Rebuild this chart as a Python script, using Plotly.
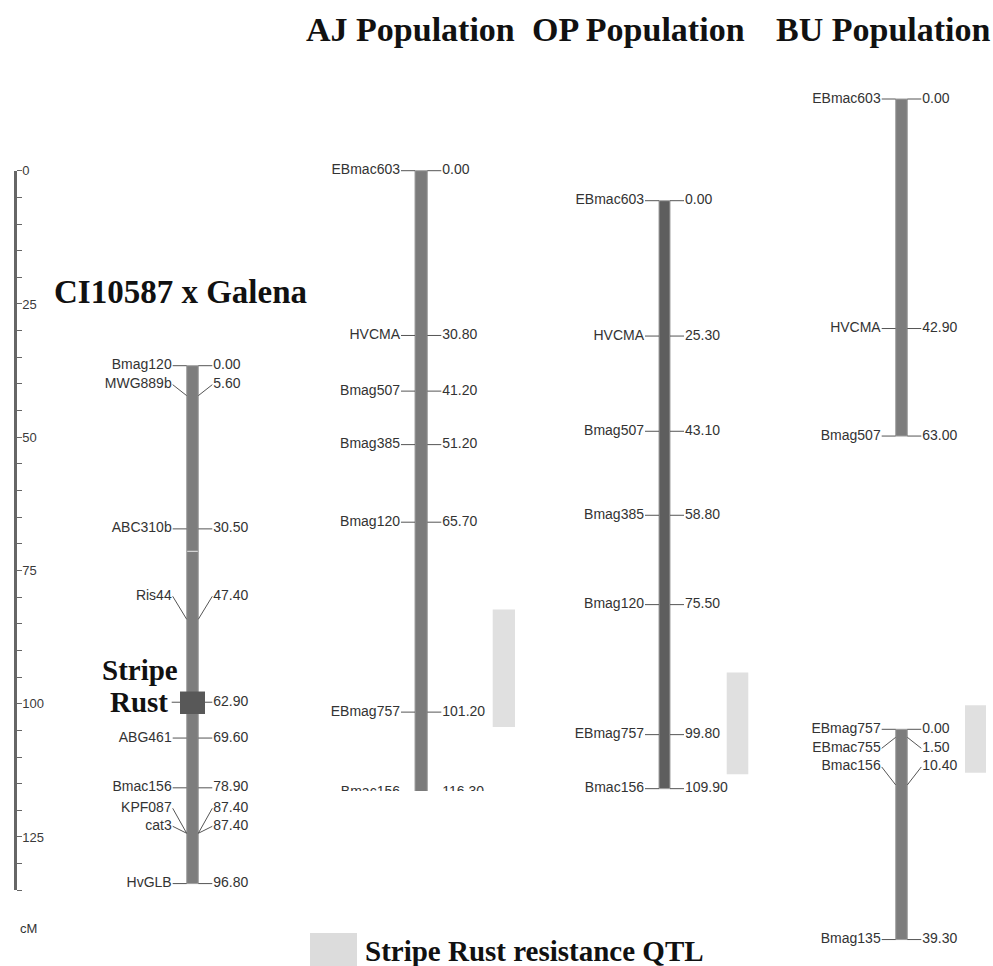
import plotly.graph_objects as go

W, H = 993, 966

# ---------------- map data (cM) ----------------
ci_markers = ["Bmag120", "MWG889b", "ABC310b", "Ris44", "ABG461",
              "Bmac156", "KPF087", "cat3", "HvGLB"]
ci_pos = [0.00, 5.60, 30.50, 47.40, 69.60, 78.90, 87.40, 87.40, 96.80]
ci_gene = "Stripe Rust"
ci_gene_pos = 62.90
ci_break = 34.7

aj_markers = ["EBmac603", "HVCMA", "Bmag507", "Bmag385", "Bmag120",
              "EBmag757", "Bmac156"]
aj_pos = [0.00, 30.80, 41.20, 51.20, 65.70, 101.20, 116.30]
aj_qtl = [82.0, 104.0]

op_markers = ["EBmac603", "HVCMA", "Bmag507", "Bmag385", "Bmag120",
              "EBmag757", "Bmac156"]
op_pos = [0.00, 25.30, 43.10, 58.80, 75.50, 99.80, 109.90]
op_qtl = [88.2, 107.2]

bu1_markers = ["EBmac603", "HVCMA", "Bmag507"]
bu1_pos = [0.00, 42.90, 63.00]

bu2_markers = ["EBmag757", "EBmac755", "Bmac156", "Bmag135"]
bu2_pos = [0.00, 1.50, 10.40, 39.30]
bu2_qtl = [-4.5, 8.1]

scale_max = 135
scale_major = 25
scale_minor = 5

titles = ["AJ Population", "OP Population", "BU Population"]
cross_title = "CI10587 x Galena"
legend_text = "Stripe Rust resistance QTL"

# ---------------- drawing geometry (pixels) ----------------
PX_PER_CM = 5.35
SCALE_PX_PER_CM = 5.33
CONN = 14          # connector length
LABEL_FONT = dict(family="Liberation Sans, Arial, sans-serif", size=14, color="#333333")
SERIF = "Liberation Serif, Times New Roman, serif"
LINE_COLOR = "#555555"
QTL_COLOR = "#e0e0e0"

panels = {
    "ci":  dict(axis="y2", y0=365.7, lo=-6, hi=100, bar_l=186.7, bar_w=11.6,
                color="#7d7d7d", shifts={"MWG889b": -11, "Ris44": -23,
                                          "KPF087": -25, "cat3": -7}, clip=False),
    "aj":  dict(axis="y3", y0=170.7, lo=-5, hi=(791 - 170.7) / PX_PER_CM,
                bar_l=415.0, bar_w=12.3, color="#7b7b7b", shifts={}, clip=True,
                qtl_x=(492.7, 515.0)),
    "op":  dict(axis="y4", y0=200.7, lo=-5, hi=112, bar_l=659.0, bar_w=11.0,
                color="#5e5e5e", shifts={}, clip=False, qtl_x=(726.7, 748.3)),
    "bu1": dict(axis="y5", y0=99.0, lo=-5, hi=66, bar_l=895.7, bar_w=11.6,
                color="#7d7d7d", shifts={}, clip=False),
    "bu2": dict(axis="y6", y0=729.3, lo=-6.5, hi=42, bar_l=895.7, bar_w=11.6,
                color="#7d7d7d", shifts={"EBmac755": 11, "Bmac156": -18},
                clip=False, qtl_x=(965.0, 986.0)),
}

fig = go.Figure()


def add_chromosome(cfg, names, pos, qtl=None):
    ax = cfg["axis"]
    bl, bw = cfg["bar_l"], cfg["bar_w"]
    br = bl + bw
    xc = bl + bw / 2

    # chromosome body
    fig.add_trace(go.Bar(x=[xc], y=[pos[-1] - pos[0]], base=[pos[0]], width=[bw],
                         marker=dict(color=cfg["color"], line=dict(color="#a0a0a0", width=1)),
                         xaxis="x", yaxis=ax, hoverinfo="skip", showlegend=False))

    # QTL interval
    if qtl is not None:
        x0, x1 = cfg["qtl_x"]
        fig.add_trace(go.Bar(x=[(x0 + x1) / 2], y=[qtl[1] - qtl[0]], base=[qtl[0]],
                             width=[x1 - x0], marker=dict(color=QTL_COLOR, line=dict(width=0)),
                             xaxis="x", yaxis=ax, hoverinfo="skip", showlegend=False))

    # connectors
    lx, ly = [], []
    label_y = []
    for n, p in zip(names, pos):
        ypos = p + cfg["shifts"].get(n, 0) / PX_PER_CM
        label_y.append(ypos)
        lx += [bl - CONN, bl, None, br, br + CONN, None]
        ly += [ypos, p, None, p, ypos, None]
    fig.add_trace(go.Scatter(x=lx, y=ly, mode="lines",
                             line=dict(color=LINE_COLOR, width=1),
                             xaxis="x", yaxis=ax, hoverinfo="skip", showlegend=False))

    # marker names and positions
    fig.add_trace(go.Scatter(x=[bl - CONN - 1] * len(names), y=label_y, mode="text",
                             text=names, textposition="middle left", textfont=LABEL_FONT,
                             cliponaxis=cfg["clip"], xaxis="x", yaxis=ax,
                             hoverinfo="skip", showlegend=False))
    fig.add_trace(go.Scatter(x=[br + CONN + 1] * len(pos), y=label_y, mode="text",
                             text=[f"{p:.2f}" for p in pos], textposition="middle right",
                             textfont=LABEL_FONT, cliponaxis=cfg["clip"], xaxis="x", yaxis=ax,
                             hoverinfo="skip", showlegend=False))


# empty trace that carries the cM scale axis
fig.add_trace(go.Scatter(x=[None], y=[None], xaxis="x", yaxis="y",
                         showlegend=False, hoverinfo="skip"))

add_chromosome(panels["ci"], ci_markers, ci_pos)
add_chromosome(panels["aj"], aj_markers, aj_pos, aj_qtl)
add_chromosome(panels["op"], op_markers, op_pos, op_qtl)
add_chromosome(panels["bu1"], bu1_markers, bu1_pos)
add_chromosome(panels["bu2"], bu2_markers, bu2_pos, bu2_qtl)

# stripe rust locus on CI10587 x Galena
ci = panels["ci"]
ci_br = ci["bar_l"] + ci["bar_w"]
sq_l, sq_r = 180.0, 205.0
fig.add_trace(go.Bar(x=[(sq_l + sq_r) / 2], y=[4.2], base=[ci_gene_pos - 2.0], width=[sq_r - sq_l],
                     marker=dict(color="#585858", line=dict(width=0)),
                     xaxis="x", yaxis="y2", hoverinfo="skip", showlegend=False))
fig.add_trace(go.Scatter(x=[ci["bar_l"] - CONN - 1, sq_l, None, sq_r, ci_br + CONN],
                         y=[ci_gene_pos, ci_gene_pos, None, ci_gene_pos, ci_gene_pos],
                         mode="lines", line=dict(color=LINE_COLOR, width=1),
                         xaxis="x", yaxis="y2", hoverinfo="skip", showlegend=False))
fig.add_trace(go.Scatter(x=[ci_br + CONN + 1], y=[ci_gene_pos], mode="text",
                         text=[f"{ci_gene_pos:.2f}"], textposition="middle right",
                         textfont=LABEL_FONT, cliponaxis=False, xaxis="x", yaxis="y2",
                         hoverinfo="skip", showlegend=False))
# thin break in the CI chromosome body
fig.add_trace(go.Scatter(x=[ci["bar_l"] + 0.5, ci_br - 0.5], y=[ci_break, ci_break],
                         mode="lines", line=dict(color="#d8d8d8", width=1.2),
                         xaxis="x", yaxis="y2", hoverinfo="skip", showlegend=False))

gene_words = ci_gene.split(" ")
annotations = [
    dict(text=gene_words[0], x=139.5, y=ci_gene_pos, xref="x", yref="y2", yshift=32,
         showarrow=False, font=dict(family=SERIF, size=29, color="#111111", weight="bold")),
    dict(text=gene_words[1], x=139.0, y=ci_gene_pos, xref="x", yref="y2",
         showarrow=False, font=dict(family=SERIF, size=29, color="#111111", weight="bold")),
]


def px(x, y):
    return x / W, 1 - y / H


for t, cx in zip(titles, [410, 638.5, 883]):
    x, y = px(cx, 29)
    annotations.append(dict(text=t, x=x, y=y, xref="paper", yref="paper", showarrow=False,
                            xanchor="center", yanchor="middle",
                            font=dict(family=SERIF, size=34, color="#111111", weight="bold")))

x, y = px(180, 292)
annotations.append(dict(text=cross_title, x=x, y=y, xref="paper", yref="paper",
                        showarrow=False, xanchor="center", yanchor="middle",
                        font=dict(family=SERIF, size=33, color="#111111", weight="bold")))

x, y = px(363, 951)
annotations.append(dict(text=legend_text, x=x, y=y, xref="paper", yref="paper",
                        showarrow=False, xanchor="left", yanchor="middle",
                        font=dict(family=SERIF, size=29, color="#111111", weight="bold")))

x, y = px(28, 928)
annotations.append(dict(text="cM", x=x, y=y, xref="paper", yref="paper", showarrow=False,
                        xanchor="center", yanchor="middle",
                        font=dict(family="Liberation Sans, Arial, sans-serif", size=13,
                                  color="#333333")))

lx0, ly1 = px(310, 933)
lx1, ly0 = px(357, 975)
shapes = [dict(type="rect", xref="paper", yref="paper", x0=lx0, x1=lx1, y0=ly0, y1=ly1,
               fillcolor="#dcdcdc", line=dict(width=0), layer="below")]


def axis_for(y0, lo, hi, px_per_cm):
    top = y0 + lo * px_per_cm
    bot = y0 + hi * px_per_cm
    return dict(domain=[max(0, 1 - bot / H), min(1, 1 - top / H)], range=[hi, lo])


layout_axes = {}
s = axis_for(170.7, 0, scale_max, SCALE_PX_PER_CM)
layout_axes["yaxis"] = dict(
    **s, anchor="free", position=15 / W, side="right",
    showline=True, linecolor="#666666", linewidth=2.5,
    ticks="outside", ticklen=5, tickwidth=1.2, tickcolor="#666666",
    tickmode="linear", tick0=0, dtick=scale_major, ticklabelstandoff=-2,
    tickfont=dict(family="Liberation Sans, Arial, sans-serif", size=13, color="#3a3a3a"),
    minor=dict(dtick=scale_minor, ticks="outside", ticklen=5, tickwidth=1.2,
               tickcolor="#666666", showgrid=False),
    showgrid=False, zeroline=False, fixedrange=True, automargin=False,
)
for i, key in enumerate(["ci", "aj", "op", "bu1", "bu2"], start=2):
    c = panels[key]
    layout_axes[f"yaxis{i}"] = dict(**axis_for(c["y0"], c["lo"], c["hi"], PX_PER_CM),
                                    anchor="x", visible=False, showgrid=False,
                                    zeroline=False, fixedrange=True)

fig.update_layout(
    width=W, height=H,
    margin=dict(l=0, r=0, t=0, b=0, pad=0, autoexpand=False),
    paper_bgcolor="white", plot_bgcolor="rgba(0,0,0,0)",
    barmode="overlay", showlegend=False,
    xaxis=dict(range=[0, W], domain=[0, 1], visible=False, fixedrange=True,
               automargin=False),
    annotations=annotations, shapes=shapes,
    **layout_axes,
)

fig.write_html("out.html")
